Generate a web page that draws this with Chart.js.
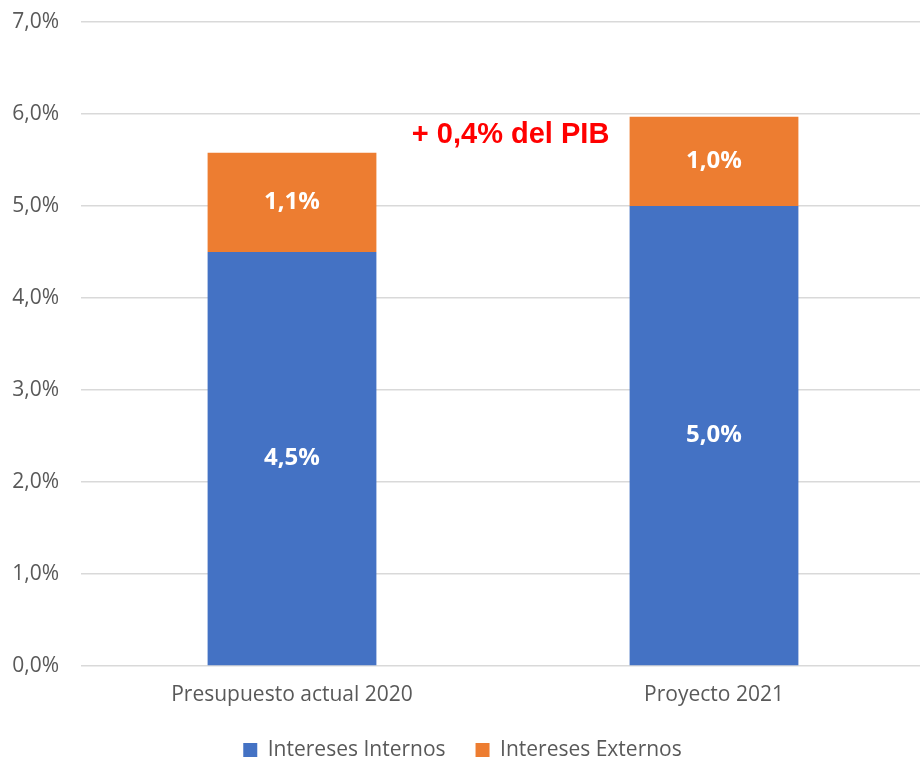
<!DOCTYPE html>
<html>
<head>
<meta charset="utf-8">
<script src="https://cdn.jsdelivr.net/npm/chart.js@4"></script>
<style>
  html, body { margin: 0; padding: 0; background: #fff; overflow: hidden; }
  #wrap { width: 925px; height: 759px; }
</style>
</head>
<body>
<div id="wrap"><canvas id="interest-chart" width="925" height="759"></canvas></div>
<script>
const categories = ['Presupuesto actual 2020', 'Proyecto 2021'];
const internos = [4.5, 5.0];
const externos = [1.08, 0.97];
const yTicks = [0, 1, 2, 3, 4, 5, 6, 7];

// red note between the two bars
const noteText = '+ 0,4% del PIB';
const noteX = 0.518;   // category index position
const noteY = 5.77;    // value position

const fmt = v => v.toFixed(1).replace('.', ',') + '%';

// draws the white value labels centred in each segment, plus the note
const labelPlugin = {
    id: 'segmentLabels',
    afterDatasetsDraw(chart) {
        const ctx = chart.ctx;
        ctx.save();
        ctx.fillStyle = '#ffffff';
        ctx.font = 'bold 24px "Open Sans"';
        ctx.textAlign = 'center';
        ctx.textBaseline = 'middle';
        chart.data.datasets.forEach((ds, i) => {
            chart.getDatasetMeta(i).data.forEach((bar, j) => {
                const mid = (bar.y + bar.base) / 2;
                ctx.fillText(fmt(ds.data[j]), bar.x, mid);
            });
        });
        const xs = chart.scales.x, ys = chart.scales.y;
        ctx.fillStyle = '#ff0000';
        ctx.font = 'bold 29px "Liberation Sans"';
        ctx.fillText(noteText, xs.getPixelForValue(noteX), ys.getPixelForValue(noteY));
        ctx.restore();
    }
};

const data = {
    labels: categories,
    datasets: [
        {
            label: 'Intereses Internos',
            data: internos,
            backgroundColor: '#4472C4'
        },
        {
            label: 'Intereses Externos',
            data: externos,
            backgroundColor: '#ED7D31'
        }
    ]
};

const config = {
    type: 'bar',
    data: data,
    options: {
        responsive: false,
        animation: false,
        barPercentage: 0.4,
        categoryPercentage: 1,
        layout: { padding: { top: 22, right: 0, bottom: -11.5, left: 0 } },
        plugins: {
            legend: {
                position: 'bottom',
                labels: {
                    color: '#595959',
                    font: { family: 'Open Sans', size: 21 },
                    boxWidth: 14,
                    boxHeight: 14,
                    padding: 30
                }
            },
            tooltip: { enabled: false }
        },
        scales: {
            x: {
                stacked: true,
                afterFit: scale => { scale.height = 43.5; },
                grid: { display: false, drawTicks: false },
                border: { display: false },
                ticks: {
                    color: '#595959',
                    font: { family: 'Open Sans', size: 21 },
                    padding: 16
                }
            },
            y: {
                stacked: true,
                min: 0,
                max: 7,
                afterBuildTicks: scale => { scale.ticks = yTicks.map(v => ({ value: v })); },
                afterFit: scale => {
                    scale.width = 81;
                    scale.paddingTop = 0;
                    scale.paddingBottom = 0;
                },
                grid: { color: '#D9D9D9', lineWidth: 1.5, drawTicks: false },
                border: { display: false },
                ticks: {
                    color: '#595959',
                    font: { family: 'Open Sans', size: 21 },
                    padding: 22,
                    callback: v => fmt(v)
                }
            }
        }
    },
    plugins: [labelPlugin]
};

const myChart = new Chart(document.getElementById('interest-chart').getContext('2d'), config);
</script>
</body>
</html>
